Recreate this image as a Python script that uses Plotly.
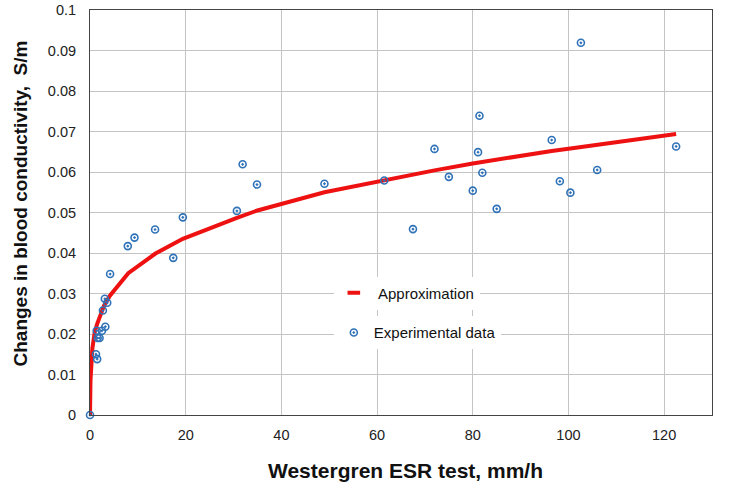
import plotly.graph_objects as go

esr_x = [0, 1.25, 1.5, 1.6, 2.0, 1.4, 2.5, 3.2, 2.7, 3.1, 3.6, 4.2, 7.9, 9.3, 13.6, 17.4, 19.4,
         30.7, 31.9, 34.9, 49.0, 61.5, 67.5, 72.0, 75.0, 80.0, 81.1, 81.4, 82.0, 85.0,
         96.5, 98.2, 100.4, 102.6, 106.0, 122.5]
cond_y = [0, 0.0150, 0.0138, 0.0190, 0.0190, 0.0208, 0.0208, 0.0218, 0.0258, 0.0287, 0.0277, 0.0348,
          0.0417, 0.0438, 0.0458, 0.0388, 0.0488, 0.0504, 0.0619, 0.0569, 0.0571, 0.0579, 0.0459,
          0.0657, 0.0588, 0.0554, 0.0649, 0.0739, 0.0598, 0.0509, 0.0679, 0.0577, 0.0549, 0.0919,
          0.0605, 0.0663]

# Approximation curve
approx_x = [0, 0.1, 0.5, 1.0, 1.5, 3.0, 4.2, 8.0, 13.6, 19.4, 30.7, 35.0, 49.0, 61.5, 67.5,
            72.0, 80.0, 85.0, 96.5, 100.4, 106.0, 122.5]
approx_y = [0, 0.0085, 0.0165, 0.0205, 0.0225, 0.0272, 0.0295, 0.0350, 0.0398, 0.0435, 0.0487,
            0.0505, 0.0550, 0.0580, 0.0594, 0.0604, 0.0621, 0.0631, 0.0652, 0.0658, 0.0667, 0.0694]

x_title = "Westergren ESR test, mm/h"
y_title = "Changes in blood conductivity,\u00a0 S/m"

red = "#ee1111"
blue = "#2f72b8"

fig = go.Figure()
fig.add_trace(go.Scatter(x=approx_x, y=approx_y, mode="lines",
                         line=dict(color=red, width=4), showlegend=False, cliponaxis=False))
fig.add_trace(go.Scatter(x=esr_x, y=cond_y, mode="markers", name="Experimental data",
                         marker=dict(symbol="circle-open-dot", size=7, color=blue,
                                     line=dict(width=1.6, color=blue)),
                         cliponaxis=False, legend="legend2"))
# legend entry for approximation (short red dash)
fig.add_trace(go.Scatter(x=[None], y=[None], mode="markers", name="\u00a0Approximation",
                         marker=dict(symbol="line-ew", size=9, color=red,
                                     line=dict(width=4, color=red)),
                         legend="legend"))

font = "Liberation Sans, Arial, sans-serif"
fig.update_layout(
    width=729, height=492,
    margin=dict(l=90, r=17, t=10, b=77, autoexpand=False),
    paper_bgcolor="white", plot_bgcolor="white",
    font=dict(family=font, size=14.5, color="#222222"),
    legend=dict(x=0.392, y=0.301, xanchor="left", yanchor="middle",
                bgcolor="white", font=dict(size=15, color="#111111")),
    legend2=dict(x=0.392, y=0.203, xanchor="left", yanchor="middle",
                 bgcolor="white", font=dict(size=15, color="#111111")),
    xaxis=dict(range=[0, 130], dtick=20, tick0=0, showgrid=True, gridcolor="#c4c4c4",
               gridwidth=1, showline=True, linecolor="#444444", linewidth=1, mirror=True,
               zeroline=False, ticks="", ticklabelstandoff=7, automargin=False),
    yaxis=dict(range=[0, 0.1], dtick=0.01, tick0=0, showgrid=True, gridcolor="#c4c4c4",
               gridwidth=1, showline=True, linecolor="#444444", linewidth=1, mirror=True,
               zeroline=False, ticks="", ticklabelstandoff=10, automargin=False),
    annotations=[
        dict(text=x_title, xref="paper", yref="paper", x=0.508, y=0, yshift=-55,
             xanchor="center", yanchor="middle", showarrow=False,
             font=dict(size=21, family=font, color="#111111", weight="bold")),
        dict(text=y_title, xref="paper", yref="paper", x=0, y=0.5, xshift=-70, yshift=9,
             xanchor="center", yanchor="middle", textangle=-90, showarrow=False,
             font=dict(size=19, family=font, color="#111111", weight="bold")),
    ],
)

fig.write_html("out.html", config={"displayModeBar": False},
               post_script="document.body.style.margin='0';document.body.style.overflow='hidden';")
